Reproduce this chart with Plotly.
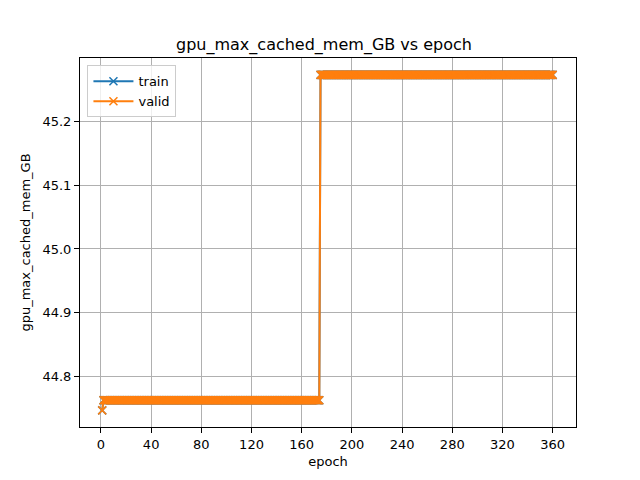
import plotly.graph_objects as go

# step segments: (value, number of epochs)
seg_values = [44.746, 44.762, 45.274]
seg_lengths = [1, 173, 186]

epochs = list(range(1, sum(seg_lengths) + 1))
train_vals = []
for v, n in zip(seg_values, seg_lengths):
    train_vals += [v] * n
valid_vals = list(train_vals)

x_ticks = [0, 40, 80, 120, 160, 200, 240, 280, 320, 360]
y_ticks = [44.8, 44.9, 45.0, 45.1, 45.2]

fig = go.Figure()
for name, vals, color in [("train", train_vals, "#1f77b4"), ("valid", valid_vals, "#ff7f0e")]:
    fig.add_trace(go.Scatter(
        x=epochs, y=vals, name=name, mode="lines+markers",
        line=dict(color=color, width=2),
        marker=dict(symbol="x-thin", size=8, line=dict(color=color, width=1.5)),
    ))

axis_common = dict(
    showline=True, linecolor="black", linewidth=1, mirror=True,
    ticks="outside", ticklen=5, tickcolor="black", tickwidth=1,
    showgrid=True, gridcolor="#b0b0b0", gridwidth=1, zeroline=False,
    tickfont=dict(size=13, color="black"),
)

W, H = 632, 472
fig.update_layout(
    width=W, height=H,
    margin=dict(l=72, r=64, t=50, b=53),
    paper_bgcolor="white", plot_bgcolor="white",
    font=dict(family="DejaVu Sans", color="black"),
    title=dict(text="gpu_max_cached_mem_GB vs epoch", x=0.5, xanchor="center",
               y=1 - 36 / H, yanchor="middle", font=dict(size=16)),
    xaxis=dict(range=[-16.7, 378.6], tickvals=x_ticks,
               title=dict(text="epoch", font=dict(size=13), standoff=6), **axis_common),
    yaxis=dict(range=[44.7198, 45.3006], tickvals=y_ticks, tickformat=".1f",
               title=dict(text="gpu_max_cached_mem_GB", font=dict(size=13), standoff=8), **axis_common),
    legend=dict(x=0.015, y=0.98, xanchor="left", yanchor="top",
                bordercolor="#cccccc", borderwidth=1, bgcolor="rgba(255,255,255,0.8)",
                font=dict(size=13), tracegroupgap=0, itemwidth=40),
    showlegend=True,
)

fig.write_html("out.html")
